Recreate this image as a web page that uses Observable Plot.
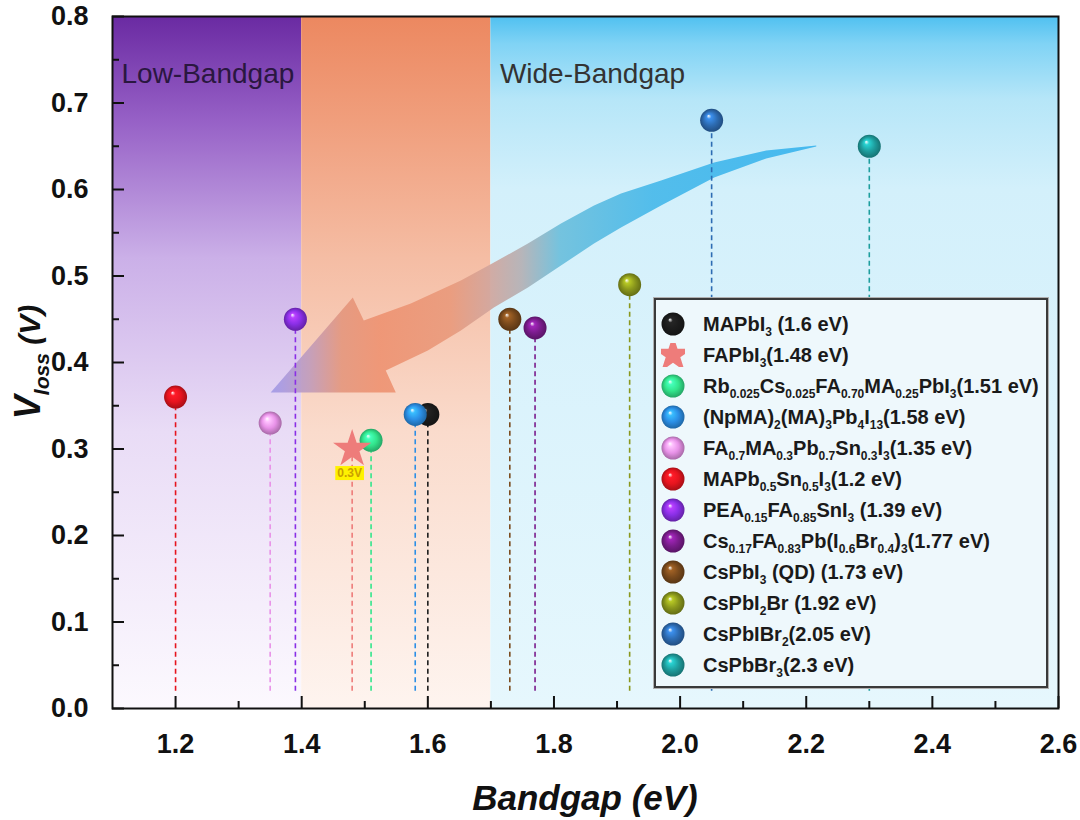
<!DOCTYPE html>
<html><head><meta charset="utf-8">
<script src="https://cdn.jsdelivr.net/npm/d3@7"></script>
<script src="https://cdn.jsdelivr.net/npm/@observablehq/plot@0.6"></script>
<style>
body{margin:0;background:#fff;font-family:"Liberation Sans",Arial,sans-serif;}
#wrap{position:relative;width:1080px;height:820px;overflow:hidden;}
#legend{position:absolute;left:654px;top:298px;width:394px;height:390px;border:2px solid #3a3a3a;box-shadow:0 0 0 1px #b0b0b0;background:#eef8fc;box-sizing:border-box;}
.row{position:absolute;left:0;height:31px;display:flex;align-items:center;font-weight:bold;font-size:20px;color:#1a1a1a;white-space:nowrap;}
.row svg{margin-left:5px;margin-right:18px;flex:none;}
sub{font-size:12px;vertical-align:-5px;line-height:0;}
</style></head>
<body><div id="wrap"></div>
<script>
// ---- data ----
const materials = ["MAPbI3","FAPbI3","Rb0.025Cs0.025FA0.70MA0.25PbI3","(NpMA)2(MA)3Pb4I13","FA0.7MA0.3Pb0.7Sn0.3I3","MAPb0.5Sn0.5I3","PEA0.15FA0.85SnI3","Cs0.17FA0.83Pb(I0.6Br0.4)3","CsPbI3 (QD)","CsPbI2Br","CsPbIBr2","CsPbBr3"];
const legendLabels = [
 "MAPbI<sub>3</sub> (1.6 eV)",
 "FAPbI<sub>3</sub>(1.48 eV)",
 "Rb<sub>0.025</sub>Cs<sub>0.025</sub>FA<sub>0.70</sub>MA<sub>0.25</sub>PbI<sub>3</sub>(1.51 eV)",
 "(NpMA)<sub>2</sub>(MA)<sub>3</sub>Pb<sub>4</sub>I<sub>13</sub>(1.58 eV)",
 "FA<sub>0.7</sub>MA<sub>0.3</sub>Pb<sub>0.7</sub>Sn<sub>0.3</sub>I<sub>3</sub>(1.35 eV)",
 "MAPb<sub>0.5</sub>Sn<sub>0.5</sub>I<sub>3</sub>(1.2 eV)",
 "PEA<sub>0.15</sub>FA<sub>0.85</sub>SnI<sub>3</sub> (1.39 eV)",
 "Cs<sub>0.17</sub>FA<sub>0.83</sub>Pb(I<sub>0.6</sub>Br<sub>0.4</sub>)<sub>3</sub>(1.77 eV)",
 "CsPbI<sub>3</sub> (QD) (1.73 eV)",
 "CsPbI<sub>2</sub>Br (1.92 eV)",
 "CsPbIBr<sub>2</sub>(2.05 eV)",
 "CsPbBr<sub>3</sub>(2.3 eV)"];
const bandgaps = [1.6,1.48,1.51,1.58,1.35,1.2,1.39,1.77,1.73,1.92,2.05,2.3];
const vloss    = [0.34,0.30,0.31,0.34,0.33,0.36,0.45,0.44,0.45,0.49,0.68,0.65];
const colors   = ["#1c1c1c","#ee7c7a","#33e58c","#2b8fe6","#e892e8","#e6141e","#8a2fe6","#7a1c8c","#7a4a1c","#8a971c","#2d6cb3","#1e9e9e"];
const symbols  = ["sphere","star","sphere","sphere","sphere","sphere","sphere","sphere","sphere","sphere","sphere","sphere"];

const regions = [
 {label:"Low-Bandgap", x1:1.1, x2:1.4, grad:"gLow", color:"#2a1740"},
 {label:"", x1:1.4, x2:1.7, grad:"gMid", color:"#333"},
 {label:"Wide-Bandgap", x1:1.7, x2:2.6, grad:"gWide", color:"#333"}];
const regionLabelY = 0.733;

const xMajor = [1.2,1.4,1.6,1.8,2.0,2.2,2.4,2.6];
const xMinor = [1.3,1.5,1.7,1.9,2.1,2.3,2.5];
const yMajor = [0,0.1,0.2,0.3,0.4,0.5,0.6,0.7,0.8];
const yMinor = [0.05,0.15,0.25,0.35,0.45,0.55,0.65,0.75];

// curved arrow outline (bandgap, Vloss)
const arrowX = [2.2159,2.1365,2.0540,1.9698,1.9063,1.8635,1.8111,1.7587,1.7048,1.6524,1.5730,1.4984,1.4810,1.3508,1.5492,1.5333,1.6000,1.6524,1.7048,1.7587,1.8111,1.8635,1.9063,1.9698,2.0540,2.1365,2.2159];
const arrowY = [0.6509,0.6451,0.6312,0.6104,0.5954,0.5815,0.5607,0.5376,0.5156,0.4948,0.4682,0.4486,0.4751,0.3653,0.3653,0.3908,0.4139,0.4370,0.4636,0.4867,0.5121,0.5376,0.5561,0.5815,0.6139,0.6358,0.6497];

const annotations = [{bg:1.476, v:0.272, text:"0.3V"}];

// ---- build ----
const points = materials.map((m,i)=>({m, bg:bandgaps[i], v:vloss[i], color:colors[i], sym:symbols[i], i}));
const spheres = points.filter(d=>d.sym==="sphere");
const stars = points.filter(d=>d.sym==="star");
const arrow = arrowX.map((x,i)=>({x, y:arrowY[i]}));

const W=1080,H=820,mL=112,mR=22,mT=16,mB=112;
const plotW=W-mL-mR, plotH=H-mT-mB;
const font = "Liberation Sans, Arial, sans-serif";

const chart = Plot.plot({
  width:W, height:H, marginLeft:mL, marginRight:mR, marginTop:mT, marginBottom:mB,
  x:{domain:[1.1,2.6]}, y:{domain:[0,0.8]}, color:{type:"identity"},
  style:{fontFamily:font, background:"white", overflow:"visible"},
  marks:[
    Plot.rect(regions,{x1:"x1",x2:"x2",y1:0,y2:0.8,fill:d=>`url(#${d.grad})`}),
    Plot.text(regions.filter(d=>d.label),{x:"x1",y:()=>regionLabelY,text:"label",textAnchor:"start",dx:9,fontSize:28,fill:"color"}),
    Plot.line(arrow,{x:"x",y:"y",fill:"url(#arrowGrad)",stroke:"none",fillOpacity:0.92}),
    Plot.ruleX(points,{x:"bg",y1:0.02,y2:"v",stroke:"color",strokeDasharray:"5,3.5",strokeWidth:1.6}),
    Plot.dot(spheres,{x:"bg",y:"v",r:11.5,fill:d=>`url(#sph-${d.i})`,stroke:"none"}),
    Plot.dot(stars,{x:"bg",y:"v",r:12,symbol:"star",fill:"color",stroke:"none"}),
    Plot.text(annotations,{x:"bg",y:"v",text:"text",fontSize:12,fontWeight:"bold",fill:"#caa000"}),
    Plot.tickX(xMajor,{x:d=>d,insetTop:plotH-12,stroke:"#111",strokeWidth:2}),
    Plot.tickX(xMinor,{x:d=>d,insetTop:plotH-7,stroke:"#111",strokeWidth:2}),
    Plot.tickY(yMajor,{y:d=>d,insetRight:plotW-12,stroke:"#111",strokeWidth:2}),
    Plot.tickY(yMinor,{y:d=>d,insetRight:plotW-7,stroke:"#111",strokeWidth:2}),
    Plot.frame({stroke:"#111",strokeWidth:2}),
    Plot.axisX({ticks:xMajor,tickSize:0,tickPadding:25,tickFormat:".1f",fontSize:27,fontWeight:"bold",label:null,fill:"#111"}),
    Plot.axisY({ticks:yMajor,tickSize:0,tickPadding:24,tickFormat:".1f",fontSize:27,fontWeight:"bold",label:null,fill:"#111"})
  ]
});

const wrap = document.getElementById("wrap");
wrap.appendChild(chart);
const svg = d3.select(chart);

// gradients
const defs = svg.insert("defs",":first-child");
function vgrad(id, stops){
  const g = defs.append("linearGradient").attr("id",id).attr("x1",0).attr("y1",0).attr("x2",0).attr("y2",1);
  stops.forEach(([o,c])=>g.append("stop").attr("offset",o).attr("stop-color",c));
}
vgrad("gLow",[[0,"#6a2aa2"],[0.15,"#9660c6"],[0.35,"#cbb0e8"],[0.6,"#e9dcf6"],[1,"#fcf9fe"]]);
vgrad("gMid",[[0,"#ec8860"],[0.15,"#f09e7c"],[0.35,"#f5bda4"],[0.6,"#fadbcc"],[1,"#fef4ef"]]);
vgrad("gWide",[[0,"#4fc0f0"],[0.04,"#80d3f5"],[0.12,"#b6e6f8"],[0.25,"#d3f0fb"],[1,"#e6f7fd"]]);
const ag = defs.append("linearGradient").attr("id","arrowGrad").attr("x1",1).attr("y1",0).attr("x2",0).attr("y2",0);
[[0,"#3bb5ee"],[0.3,"#48b9ea"],[0.47,"#6cbfdc"],[0.54,"#b4b0b4"],[0.6,"#d2a59c"],[0.67,"#e99a7c"],[0.8,"#ee9372"],[0.87,"#e4977e"],[0.93,"#c09cbc"],[0.98,"#a99ae0"],[1,"#a29ae6"]]
  .forEach(([o,c])=>ag.append("stop").attr("offset",o).attr("stop-color",c));
points.forEach(d=>{
  const c = d3.color(d.color);
  const g = defs.append("radialGradient").attr("id","sph-"+d.i).attr("cx","50%").attr("cy","50%").attr("r","50%").attr("fx","36%").attr("fy","30%");
  g.append("stop").attr("offset","0").attr("stop-color","#ffffff").attr("stop-opacity",0.95);
  g.append("stop").attr("offset","0.2").attr("stop-color",c.brighter(0.8).formatHex());
  g.append("stop").attr("offset","0.6").attr("stop-color",c.formatHex());
  g.append("stop").attr("offset","1").attr("stop-color",c.darker(0.9).formatHex());
});

// yellow box behind "0.3V"
svg.selectAll("text").filter(function(){return this.textContent==="0.3V";}).each(function(){
  const b = this.getBBox();
  const r = document.createElementNS("http://www.w3.org/2000/svg","rect");
  r.setAttribute("x",b.x-2); r.setAttribute("y",b.y); r.setAttribute("width",b.width+4); r.setAttribute("height",b.height);
  r.setAttribute("fill","#fff200");
  if (this.getAttribute("transform")) r.setAttribute("transform",this.getAttribute("transform"));
  this.parentNode.insertBefore(r,this);
});

// axis titles
const yl = svg.append("text").attr("transform","translate(40,362) rotate(-90)").attr("text-anchor","middle")
  .attr("font-family",font).attr("font-weight","bold").attr("font-style","italic").attr("fill","#111");
yl.append("tspan").attr("font-size",36).text("V");
yl.append("tspan").attr("font-size",21).attr("dy",9).text("loss");
yl.append("tspan").attr("font-size",30).attr("dy",-9).text(" (V)");
svg.append("text").attr("x",585).attr("y",810).attr("text-anchor","middle").attr("font-family",font)
  .attr("font-weight","bold").attr("font-style","italic").attr("font-size",35).attr("fill","#111").text("Bandgap (eV)");

// legend
const leg = document.createElement("div"); leg.id="legend"; wrap.appendChild(leg);
const starPath = d3.symbol(d3.symbolStar, Math.PI*12*12)();
points.forEach((d,k)=>{
  const row = document.createElement("div"); row.className="row"; row.style.top=(8.5+k*31)+"px";
  const icon = d.sym==="star"
    ? `<svg width="24" height="24" viewBox="-12 -12 24 24"><path d="${starPath}" fill="${d.color}"/></svg>`
    : `<svg width="24" height="24" viewBox="-12 -12 24 24"><circle r="11.5" fill="url(#sph-${d.i})"/></svg>`;
  row.innerHTML = icon + `<span>${legendLabels[k]}</span>`;
  leg.appendChild(row);
});
</script>
</body></html>
